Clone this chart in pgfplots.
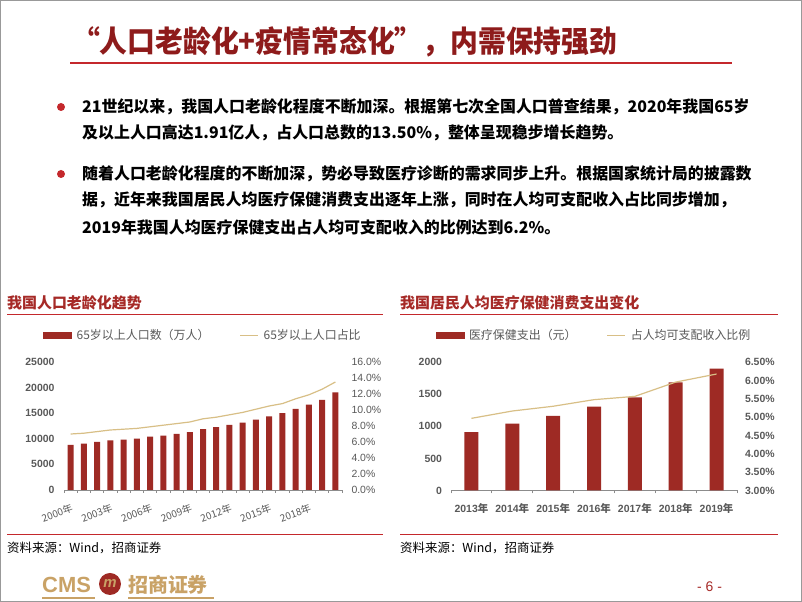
\documentclass[border=0pt]{standalone}
\usepackage{pgfplots}
\pgfplotsset{compat=1.18}
\usepackage{fontspec}
\setmainfont{Liberation Sans}
\newfontfamily\cjk{Noto Sans CJK SC}
\newfontfamily\cjkcond[FakeStretch=0.93]{Noto Sans CJK SC}
\newcommand\nian{{\cjk 年}}

\definecolor{barred}{HTML}{9E2A24}
\definecolor{linegold}{HTML}{D8BF86}
\definecolor{titlered}{HTML}{A62A27}
\definecolor{headred}{HTML}{8E1B1B}
\definecolor{rulered}{HTML}{C4282C}
\definecolor{tickgray}{HTML}{595959}
\definecolor{gold}{HTML}{C9A266}

% one style for all four axes
\pgfplotsset{
  panel/.style={
    anchor=south west, scale only axis,
    /pgf/number format/assume math mode=true,
    /pgf/number format/set thousands separator={},
    scaled y ticks=false,
    y axis line style={draw=none}, ytick style={draw=none},
  },
  legendtop/.style={
    legend columns=2,
    legend style={draw=none, fill=none, at={(0.5,1.21)}, anchor=center,
      font=\cjk\fontsize{12}{14}\selectfont, text=tickgray,
      /tikz/every odd column/.append style={column sep=3bp},
      /tikz/every even column/.append style={column sep=28bp}},
  },
  barimage/.style={legend image code/.code={\fill[barred] (0bp,-3bp) rectangle (28bp,3bp);}},
  lineimage/.style={legend image code/.code={\draw[linegold, line width=1.2bp] (0bp,0bp) -- (18bp,0bp);}},
}

\begin{document}
\begin{tikzpicture}
\path[use as bounding box] (0,0) rectangle (802bp,602bp);
\fill[white] (0,0) rectangle (802bp,602bp);

% ---- left: population 65+
\begin{axis}[panel, at={(64bp,112bp)}, width=278bp, height=128bp,
  xmin=-0.5, xmax=20.5, ymin=0, ymax=25000,
  axis x line*=bottom, axis y line*=left,
  x axis line style={draw=black!45, line width=0.8bp},
  ytick={0,5000,...,25000},
  xtick={0,3,...,18},
  xticklabels={2000年,2003年,2006年,2009年,2012年,2015年,2018年},
  minor xtick={-0.5,0.5,...,20.5},
  major tick length=0pt, minor tick length=3bp, tick align=outside,
  minor tick style={draw=black!45, line width=0.8bp},
  yticklabel style={font=\bfseries\fontsize{10.5}{12}\selectfont, text=tickgray, xshift=-6bp},
  xticklabel style={font=\cjk\fontsize{10}{12}\selectfont, text=tickgray, rotate=20, anchor=north east, xshift=-1bp, yshift=-9bp},
]
\addplot[ybar, bar width=6bp, fill=barred, draw=none] coordinates {
(0,8821) (1,9062) (2,9377) (3,9692) (4,9857) (5,10055) (6,10419)
(7,10636) (8,10956) (9,11307) (10,11894) (11,12288) (12,12714) (13,13161)
(14,13755) (15,14386) (16,15003) (17,15831) (18,16658) (19,17603) (20,19064)
};
\end{axis}
\begin{axis}[panel, legendtop, at={(64bp,112bp)}, width=278bp, height=128bp,
  xmin=-0.5, xmax=20.5, ymin=0, ymax=16,
  axis x line=none, axis y line*=right,
  ytick={0,2,...,16},
  yticklabel={\pgfmathprintnumber[fixed,fixed zerofill,precision=1]{\tick}\%},
  yticklabel style={font=\fontsize{10.5}{12}\selectfont, text=tickgray, xshift=6bp},
]
\addlegendimage{barimage}
\addplot[linegold, line width=1.2bp, lineimage] coordinates {
(0,7.0) (1,7.1) (2,7.3) (3,7.5) (4,7.6) (5,7.7) (6,7.9)
(7,8.1) (8,8.3) (9,8.5) (10,8.9) (11,9.1) (12,9.4) (13,9.7)
(14,10.1) (15,10.5) (16,10.8) (17,11.4) (18,11.9) (19,12.6) (20,13.5)
};
\legend{65岁以上人口数（万人）, 65岁以上人口占比}
\end{axis}

% ---- right: health spending per head
\begin{axis}[panel, at={(451bp,111.5bp)}, width=286bp, height=128.2bp,
  xmin=-0.5, xmax=6.5, ymin=0, ymax=2000,
  axis x line*=bottom, axis y line*=left,
  x axis line style={draw=black!45, line width=0.8bp},
  ytick={0,500,...,2000},
  xtick={0,...,6},
  xticklabels={2013\nian,2014\nian,2015\nian,2016\nian,2017\nian,2018\nian,2019\nian},
  minor xtick={-0.5,0.5,...,6.5},
  major tick length=0pt, minor tick length=3bp, tick align=outside,
  minor tick style={draw=black!45, line width=0.8bp},
  yticklabel style={font=\bfseries\fontsize{10.5}{12}\selectfont, text=tickgray, xshift=-5.5bp},
  xticklabel style={font=\bfseries\fontsize{10.5}{12}\selectfont, text=tickgray, yshift=-9bp},
]
\addplot[ybar, bar width=14bp, fill=barred, draw=none] coordinates {
(0,912) (1,1045) (2,1165) (3,1307) (4,1451) (5,1685) (6,1902)
};
\end{axis}
\begin{axis}[panel, legendtop, at={(451bp,111.5bp)}, width=286bp, height=128.2bp,
  xmin=-0.5, xmax=6.5, ymin=3, ymax=6.5,
  axis x line=none, axis y line*=right,
  ytick={3,3.5,...,6.5},
  yticklabel={\pgfmathprintnumber[fixed,fixed zerofill,precision=2]{\tick}\%},
  yticklabel style={font=\bfseries\fontsize{10.5}{12}\selectfont, text=tickgray, xshift=4.5bp},
]
\addlegendimage{barimage}
\addplot[linegold, line width=1.2bp, lineimage] coordinates {
(0,4.97) (1,5.17) (2,5.30) (3,5.48) (4,5.57) (5,5.96) (6,6.18)
};
\legend{医疗保健支出（元）, 占人均可支配收入比例}
\end{axis}

% ---- slide text, in pixel coordinates from the top left
\begin{scope}[x=1bp, y=-1bp, shift={(0,602bp)}]
\draw[black!40, line width=1.2bp] (0.6,0.6) rectangle (801.4,601.4);

\node[anchor=west, inner sep=0, text=headred, font=\cjkcond\bfseries\fontsize{30}{34}\selectfont] at (72,42) {“人口老龄化+疫情常态化”，内需保持强劲};
\draw[rulered, line width=1.3bp] (70,63) -- (732,63);

\fill[rulered] (61,107) circle (4);
\fill[rulered] (61,174) circle (4);
\begin{scope}[every node/.style={anchor=west, inner sep=0, font=\cjk\bfseries\fontsize{16}{18}\selectfont}]
\node at (82,107) {21世纪以来，我国人口老龄化程度不断加深。根据第七次全国人口普查结果，2020年我国65岁};
\node at (82,133) {及以上人口高达1.91亿人，占人口总数的13.50\%，整体呈现稳步增长趋势。};
\node at (82,174) {随着人口老龄化程度的不断加深，势必导致医疗诊断的需求同步上升。根据国家统计局的披露数};
\node at (82,200) {据，近年来我国居民人均医疗保健消费支出逐年上涨，同时在人均可支配收入占比同步增加，};
\node at (82,227) {2019年我国人均医疗保健支出占人均可支配收入的比例达到6.2\%。};
\end{scope}

\begin{scope}[every node/.style={anchor=west, inner sep=0, text=titlered, font=\cjk\bfseries\fontsize{15}{17}\selectfont}]
\node at (7,303) {我国人口老龄化趋势};
\node at (400,303) {我国居民人均医疗保健消费支出变化};
\end{scope}
\draw[rulered, line width=1bp] (7,314.5) -- (383,314.5);
\draw[rulered, line width=1bp] (400,314.5) -- (778,314.5);

\draw[rulered, line width=1bp] (7,535) -- (383,535);
\draw[rulered, line width=1bp] (400,535) -- (778,535);
\begin{scope}[every node/.style={anchor=west, inner sep=0, font=\cjk\fontsize{12.5}{14}\selectfont}]
\node at (7,548) {资料来源：Wind，招商证券};
\node at (400,548) {资料来源：Wind，招商证券};
\end{scope}

% logo and page number
\node[anchor=west, inner sep=0, text=gold, font=\bfseries\fontsize{22}{24}\selectfont] at (42,585) {CMS};
\fill[barred] (110,584) circle (11);
\node[text=gold, font=\bfseries\itshape\fontsize{15}{16}\selectfont] at (110,583) {m};
\node[anchor=west, inner sep=0, text=gold, font=\cjk\bfseries\fontsize{20}{22}\selectfont] at (128,585) {招商证券};
\draw[gold, line width=1.2bp] (42,598) -- (95,598);
\draw[gold, line width=1.2bp] (128,598) -- (214,598);
\node[anchor=west, inner sep=0, text=titlered, font=\fontsize{14}{16}\selectfont] at (697,587) {- 6 -};
\end{scope}
\end{tikzpicture}
\end{document}
